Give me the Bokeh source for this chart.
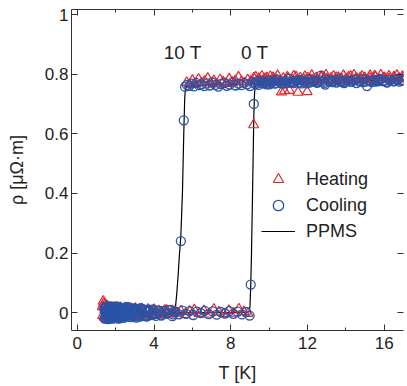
from bokeh.plotting import figure
from bokeh.models import (LinearAxis, FixedTicker, Legend, LegendItem, Label,
                          CustomJSTickFormatter, CustomLabelingPolicy, Range1d)
from bokeh.embed import file_html
from bokeh.resources import INLINE

FONT = "Liberation Sans"
RED = "#e8262a"
BLUE = "#2a54a6"
INK = "#222222"

# ---------------- data (T in K, rho in uOhm m) ----------------
# Cooling, 0 T sweep, superconducting branch
cool_low_a_T = [1.40, 1.44, 1.48, 1.52, 1.56, 1.60, 1.64, 1.68, 1.72, 1.76,
                1.80, 1.85, 1.90, 1.95, 2.00, 2.05, 2.10, 2.16, 2.22, 2.28,
                2.34, 2.40, 2.47, 2.54, 2.61, 2.68, 2.75, 2.83, 2.91, 2.99,
                3.07, 3.16, 3.25, 3.34, 3.44, 3.54, 3.64, 3.75, 3.86, 3.98,
                4.10, 4.23, 4.36, 4.50, 4.65, 4.80, 4.96, 5.12, 5.30, 5.48,
                5.66, 5.85, 6.04, 6.24, 6.44, 6.64, 6.85, 7.06, 7.27, 7.48,
                7.70, 7.92, 8.14, 8.36, 8.58, 8.80, 8.98]
cool_low_a_rho = [0.012, -0.018, 0.020, -0.010, 0.004, -0.022, 0.016, -0.005, 0.021, -0.015,
                  0.008, -0.020, 0.014, 0.000, -0.012, 0.018, -0.006, 0.010, -0.019, 0.015,
                  -0.002, 0.012, -0.016, 0.019, -0.008, 0.006, -0.014, 0.013, -0.004, 0.009,
                  -0.017, 0.011, -0.001, 0.014, -0.012, 0.005, -0.009, 0.010, -0.006, 0.008,
                  -0.011, 0.004, -0.007, 0.006, -0.003, 0.008, -0.012, 0.002, -0.006, 0.007,
                  -0.004, 0.005, -0.008, 0.003, -0.002, 0.006, -0.005, 0.004, -0.007, 0.002,
                  -0.003, 0.005, -0.004, 0.003, -0.006, 0.002, -0.010]
# Cooling, 10 T sweep, superconducting branch
cool_low_b_T = [1.42, 1.46, 1.50, 1.54, 1.58, 1.62, 1.66, 1.70, 1.74, 1.78,
                1.83, 1.88, 1.93, 1.98, 2.03, 2.08, 2.13, 2.19, 2.25, 2.31,
                2.37, 2.44, 2.51, 2.58, 2.65, 2.72, 2.80, 2.88, 2.96, 3.04,
                3.13, 3.22, 3.31, 3.41, 3.51, 3.62, 3.73, 3.85, 3.97, 4.10,
                4.24, 4.38, 4.53, 4.68, 4.84, 5.00, 5.10]
cool_low_b_rho = [-0.020, 0.015, -0.004, 0.022, -0.016, 0.009, -0.021, 0.017, -0.009, 0.013,
                  -0.018, 0.006, -0.013, 0.020, -0.003, 0.011, -0.020, 0.004, 0.017, -0.011,
                  0.008, -0.017, 0.003, 0.016, -0.010, 0.012, -0.015, 0.002, 0.014, -0.011,
                  0.007, -0.014, 0.012, -0.005, 0.009, -0.013, 0.006, -0.008, 0.011, -0.004,
                  0.007, -0.010, 0.005, -0.003, 0.009, -0.006, 0.004]
# Cooling, repeated low-temperature run
cool_low_c_T = [1.45, 1.49, 1.53, 1.57, 1.61, 1.65, 1.69, 1.73, 1.77, 1.81,
                1.86, 1.91, 1.96, 2.01, 2.06, 2.11, 2.17, 2.23, 2.29, 2.35,
                2.42, 2.49, 2.56, 2.63, 2.70, 2.78, 2.86, 2.94, 3.02, 3.11,
                3.20, 3.29, 3.39, 3.49, 3.60, 3.71, 3.83, 3.95]
cool_low_c_rho = [0.003, -0.012, 0.018, -0.001, -0.017, 0.011, 0.004, -0.013, 0.019, -0.006,
                  0.016, -0.015, 0.009, -0.008, 0.021, -0.014, 0.013, 0.001, -0.016, 0.010,
                  -0.006, 0.014, -0.012, 0.005, 0.018, -0.009, 0.008, -0.013, 0.012, 0.000,
                  -0.010, 0.015, -0.003, 0.010, -0.011, 0.004, 0.009, -0.007]
# Cooling, points on the transitions
cool_trans_T = [5.40, 5.55, 9.04, 9.20]
cool_trans_rho = [0.24, 0.645, 0.094, 0.70]
# Cooling, 10 T sweep, normal branch
cool_high_b_T = [5.62, 5.72, 5.84, 5.96, 6.08, 6.20, 6.34, 6.48, 6.62, 6.76,
                 6.90, 7.05, 7.20, 7.35, 7.50, 7.65, 7.80, 7.95, 8.10, 8.25,
                 8.40, 8.55, 8.70, 8.85, 9.00, 9.15, 9.30, 9.48, 9.66, 9.84,
                 10.02, 10.20, 10.38, 10.56, 10.74, 10.92, 11.10, 11.30, 11.50, 11.70,
                 11.90, 12.10, 12.30, 12.50, 12.70, 12.90, 13.10, 13.30, 13.50, 13.70,
                 13.90, 14.10, 14.30, 14.50, 14.70, 14.90, 15.10, 15.30, 15.50, 15.70,
                 15.90, 16.10, 16.30, 16.50, 16.70, 16.90]
cool_high_b_rho = [0.758, 0.764, 0.761, 0.768, 0.759, 0.771, 0.763, 0.766, 0.760, 0.769,
                   0.762, 0.772, 0.764, 0.758, 0.767, 0.770, 0.761, 0.765, 0.773, 0.762,
                   0.768, 0.763, 0.771, 0.766, 0.760, 0.774, 0.767, 0.776, 0.769, 0.772,
                   0.766, 0.779, 0.770, 0.774, 0.768, 0.777, 0.771, 0.775, 0.780, 0.769,
                   0.776, 0.772, 0.778, 0.774, 0.795, 0.771, 0.777, 0.773, 0.781, 0.775,
                   0.770, 0.778, 0.774, 0.782, 0.776, 0.773, 0.760, 0.778, 0.775, 0.781,
                   0.777, 0.774, 0.780, 0.776, 0.782, 0.778]
# Cooling, 0 T sweep, normal branch
cool_high_a_T = [9.25, 9.35, 9.45, 9.55, 9.65, 9.75, 9.86, 9.97, 10.08, 10.19,
                 10.30, 10.42, 10.54, 10.66, 10.78, 10.90, 11.02, 11.15, 11.28, 11.41,
                 11.54, 11.67, 11.80, 11.94, 12.08, 12.22, 12.36, 12.50, 12.64, 12.78,
                 12.92, 13.06, 13.20, 13.35, 13.50, 13.65, 13.80, 13.95, 14.10, 14.25,
                 14.40, 14.55, 14.70, 14.86, 15.02, 15.18, 15.34, 15.50, 15.66, 15.82,
                 15.98, 16.14, 16.30, 16.46, 16.62, 16.78, 16.94, 17.05]
cool_high_a_rho = [0.768, 0.775, 0.764, 0.779, 0.770, 0.772, 0.766, 0.780, 0.771, 0.776,
                   0.768, 0.782, 0.773, 0.769, 0.777, 0.771, 0.784, 0.774, 0.770, 0.778,
                   0.772, 0.780, 0.775, 0.769, 0.783, 0.774, 0.777, 0.771, 0.779, 0.775,
                   0.765, 0.781, 0.774, 0.778, 0.772, 0.786, 0.776, 0.773, 0.779, 0.775,
                   0.781, 0.770, 0.777, 0.783, 0.775, 0.779, 0.773, 0.781, 0.776, 0.784,
                   0.778, 0.772, 0.780, 0.777, 0.783, 0.775, 0.780, 0.778]

# Heating, 0 T sweep, superconducting branch
heat_low_a_T = [1.30, 1.35, 1.40, 1.46, 1.52, 1.58, 1.65, 1.72, 1.80, 1.88,
                1.96, 2.05, 2.14, 2.24, 2.34, 2.45, 2.56, 2.68, 2.80, 2.93,
                3.06, 3.20, 3.35, 3.50, 3.66, 3.82, 4.00, 4.18, 4.37, 4.56,
                4.76, 4.96, 5.18, 5.40, 5.63, 5.86, 6.10, 6.35, 6.60, 6.86,
                7.12, 7.38, 7.64, 7.90, 8.16, 8.42, 8.68, 8.90]
heat_low_a_rho = [0.020, 0.038, -0.015, 0.028, 0.010, -0.020, 0.015, 0.000, -0.012, 0.018,
                  -0.006, 0.010, -0.016, 0.014, -0.004, 0.008, -0.013, 0.012, -0.003, 0.009,
                  -0.010, 0.006, 0.013, -0.008, 0.004, -0.005, 0.010, -0.007, 0.003, 0.008,
                  -0.004, 0.006, -0.002, 0.005, -0.006, 0.004, 0.009, -0.003, 0.006, -0.005,
                  0.011, 0.002, -0.004, 0.007, -0.002, 0.012, 0.003, -0.003]
# Heating, 10 T sweep, superconducting branch
heat_low_b_T = [1.32, 1.38, 1.44, 1.50, 1.56, 1.63, 1.70, 1.78, 1.86, 1.95,
                2.04, 2.14, 2.25, 2.36, 2.48, 2.61, 2.74, 2.88, 3.03, 3.18,
                3.34, 3.51, 3.68, 3.86, 4.05, 4.25, 4.45, 4.66, 4.88, 5.08]
heat_low_b_rho = [-0.010, 0.030, 0.008, -0.018, 0.022, 0.005, -0.014, 0.016, 0.002, -0.017,
                  0.012, -0.008, 0.017, 0.003, -0.011, 0.013, -0.006, 0.009, 0.014, -0.009,
                  0.007, -0.004, 0.011, 0.001, -0.007, 0.006, -0.002, 0.008, -0.005, 0.003]
# Heating, point on the 0 T transition
heat_trans_T = [9.19]
heat_trans_rho = [0.63]
# Heating, 10 T sweep, normal branch
heat_high_b_T = [5.70, 5.85, 6.00, 6.16, 6.32, 6.48, 6.64, 6.80, 6.96, 7.12,
                 7.28, 7.44, 7.60, 7.76, 7.92, 8.08, 8.24, 8.40, 8.56, 8.72,
                 8.88, 9.04, 9.20, 9.40, 9.60, 9.80, 10.00, 10.20, 10.40, 10.60,
                 10.80, 11.00, 11.20, 11.40, 11.60, 11.80, 12.00, 12.25, 12.50, 12.75,
                 13.00, 13.25, 13.50, 13.75, 14.00, 14.25, 14.50, 14.75, 15.00, 15.25,
                 15.50, 15.75, 16.00, 16.25, 16.50, 16.75, 17.00]
heat_high_b_rho = [0.772, 0.765, 0.779, 0.768, 0.783, 0.770, 0.776, 0.786, 0.771, 0.778,
                   0.767, 0.781, 0.774, 0.769, 0.784, 0.773, 0.778, 0.790, 0.775, 0.770,
                   0.781, 0.776, 0.787, 0.779, 0.773, 0.785, 0.778, 0.789, 0.781, 0.775,
                   0.744, 0.786, 0.780, 0.791, 0.777, 0.783, 0.788, 0.781, 0.776, 0.792,
                   0.784, 0.780, 0.789, 0.785, 0.778, 0.793, 0.783, 0.788, 0.781, 0.786,
                   0.794, 0.782, 0.789, 0.784, 0.791, 0.786, 0.790]
# Heating, 0 T sweep, normal branch
heat_high_a_T = [9.30, 9.38, 9.46, 9.54, 9.62, 9.70, 9.79, 9.88, 9.97, 10.06,
                 10.15, 10.24, 10.34, 10.44, 10.54, 10.64, 10.74, 10.84, 10.95, 11.06,
                 11.17, 11.28, 11.39, 11.50, 11.62, 11.74, 11.86, 11.98, 12.10, 12.22,
                 12.34, 12.46, 12.58, 12.70, 12.83, 12.96, 13.09, 13.22, 13.35, 13.48,
                 13.61, 13.74, 13.87, 14.00, 14.14, 14.28, 14.42, 14.56, 14.70, 14.84,
                 14.98, 15.12, 15.26, 15.40, 15.54, 15.68, 15.82, 15.96, 16.10, 16.24,
                 16.38, 16.52, 16.66, 16.80, 16.94, 17.08]
heat_high_a_rho = [0.790, 0.776, 0.785, 0.772, 0.793, 0.780, 0.770, 0.788, 0.777, 0.792,
                   0.774, 0.783, 0.779, 0.795, 0.776, 0.740, 0.786, 0.773, 0.790, 0.745,
                   0.781, 0.794, 0.777, 0.739, 0.787, 0.775, 0.792, 0.741, 0.784, 0.796,
                   0.779, 0.788, 0.774, 0.791, 0.783, 0.797, 0.778, 0.786, 0.793, 0.780,
                   0.789, 0.776, 0.795, 0.784, 0.790, 0.779, 0.797, 0.786, 0.782, 0.793,
                   0.788, 0.776, 0.795, 0.785, 0.791, 0.781, 0.797, 0.787, 0.783, 0.794,
                   0.779, 0.789, 0.796, 0.784, 0.792, 0.787]

# PPMS reference curves
ppms_10T_T = [1.45, 2.5, 3.5, 4.5, 5.00, 5.08, 5.12, 5.18, 5.25, 5.32,
              5.40, 5.48, 5.55, 5.60, 5.64, 5.70, 6.0, 7.0, 8.0, 9.0,
              10.0, 11.0, 12.0, 13.0, 14.0, 15.0, 16.0, 17.1]
ppms_10T_rho = [0.0, 0.0, 0.0, 0.0, 0.001, 0.006, 0.02, 0.06, 0.12, 0.19,
                0.26, 0.40, 0.60, 0.72, 0.752, 0.760, 0.762, 0.764, 0.765, 0.766,
                0.768, 0.770, 0.772, 0.774, 0.776, 0.777, 0.779, 0.780]
ppms_0T_T = [1.45, 3.0, 5.0, 7.0, 8.5, 8.95, 9.00, 9.04, 9.08, 9.12,
             9.16, 9.20, 9.24, 9.28, 9.35, 10.0, 11.0, 12.0, 13.0, 14.0,
             15.0, 16.0, 17.1]
ppms_0T_rho = [0.0, 0.0, 0.0, 0.0, 0.0, 0.002, 0.02, 0.09, 0.20, 0.35,
               0.50, 0.66, 0.74, 0.760, 0.765, 0.767, 0.770, 0.772, 0.774, 0.776,
               0.778, 0.780, 0.781]

x_ticks = [0, 4, 8, 12, 16]
x_minor = [2, 6, 10, 14]
y_ticks = [0, 0.2, 0.4, 0.6, 0.8, 1.0]

heat_T = heat_low_a_T + heat_low_b_T + heat_trans_T + heat_high_b_T + heat_high_a_T
heat_rho = heat_low_a_rho + heat_low_b_rho + heat_trans_rho + heat_high_b_rho + heat_high_a_rho
cool_T = cool_low_a_T + cool_low_b_T + cool_low_c_T + cool_trans_T + cool_high_b_T + cool_high_a_T
cool_rho = (cool_low_a_rho + cool_low_b_rho + cool_low_c_rho + cool_trans_rho
            + cool_high_b_rho + cool_high_a_rho)
assert len(heat_T) == len(heat_rho) and len(cool_T) == len(cool_rho)

# ---------------- figure ----------------
p = figure(width=407, height=386, x_range=Range1d(-0.3, 17.0), y_range=Range1d(-0.06, 1.017),
           output_backend="svg", toolbar_location=None,
           min_border_left=71, min_border_right=3, min_border_top=9, min_border_bottom=56)
p.grid.visible = False
p.outline_line_color = None
p.background_fill_color = "white"
p.border_fill_color = "white"

r_p10 = p.line(ppms_10T_T, ppms_10T_rho, line_color="black", line_width=1.2)
r_p0 = p.line(ppms_0T_T, ppms_0T_rho, line_color="black", line_width=1.2)
r_heat = p.scatter(heat_T, heat_rho, marker="triangle", size=10, fill_color=None,
                   line_color=RED, line_width=1.2)
r_cool = p.scatter(cool_T, cool_rho, marker="circle", size=9, fill_color=None,
                   line_color=BLUE, line_width=1.3)

no_labels = CustomLabelingPolicy(code="for (const i of indices) indices.unset(i)")

def style_axis(ax, labels=True):
    ax.axis_line_color = "#333333"
    ax.major_tick_line_color = "#333333"
    ax.minor_tick_line_color = "#333333"
    ax.major_tick_in = 6
    ax.major_tick_out = 0
    ax.minor_tick_in = 3
    ax.minor_tick_out = 0
    if labels:
        ax.major_label_text_font = FONT
        ax.major_label_text_font_size = "17px"
        ax.major_label_text_color = INK
    else:
        ax.major_label_policy = no_labels
        ax.major_label_text_font_size = "1px"
        ax.major_label_standoff = 0

xb = p.xaxis[0]
xb.ticker = FixedTicker(ticks=x_ticks, minor_ticks=x_minor)
style_axis(xb)
xb.major_label_standoff = 6
xb.axis_label = "T [K]"
xb.axis_label_text_font = FONT
xb.axis_label_text_font_size = "18px"
xb.axis_label_text_font_style = "normal"
xb.axis_label_text_color = INK
xb.axis_label_standoff = 11

yl = p.yaxis[0]
yl.ticker = FixedTicker(ticks=y_ticks, minor_ticks=[])
yl.formatter = CustomJSTickFormatter(code="return tick.toFixed(1).replace(/\\.0$/, '');")
style_axis(yl)
yl.major_label_standoff = 3
yl.axis_label = "ρ [μΩ·m]"
yl.axis_label_text_font = FONT
yl.axis_label_text_font_size = "18px"
yl.axis_label_text_font_style = "normal"
yl.axis_label_text_color = INK
yl.axis_label_standoff = 15

xt = LinearAxis(ticker=FixedTicker(ticks=x_ticks, minor_ticks=x_minor))
style_axis(xt, labels=False)
p.add_layout(xt, "above")

yr = LinearAxis(ticker=FixedTicker(ticks=y_ticks, minor_ticks=[]))
style_axis(yr, labels=False)
yr.axis_line_color = None
p.add_layout(yr, "right")

# field annotations
p.add_layout(Label(x=5.5, y=0.872, text="10 T", text_font=FONT, text_font_size="19px",
                   text_color=INK, text_align="center", text_baseline="middle"))
p.add_layout(Label(x=9.25, y=0.872, text="0 T", text_font=FONT, text_font_size="19px",
                   text_color=INK, text_align="center", text_baseline="middle"))

legend = Legend(items=[LegendItem(label="Heating", renderers=[r_heat]),
                       LegendItem(label="Cooling", renderers=[r_cool]),
                       LegendItem(label="PPMS", renderers=[r_p10])],
                location=(190, 86), orientation="vertical",
                glyph_width=34, glyph_height=26, label_height=20, spacing=-2,
                label_standoff=11, padding=0, margin=0,
                border_line_color=None, background_fill_alpha=0,
                label_text_font=FONT, label_text_font_size="18px", label_text_color=INK)
p.add_layout(legend)

open("out.html", "w").write(file_html(p, INLINE))
